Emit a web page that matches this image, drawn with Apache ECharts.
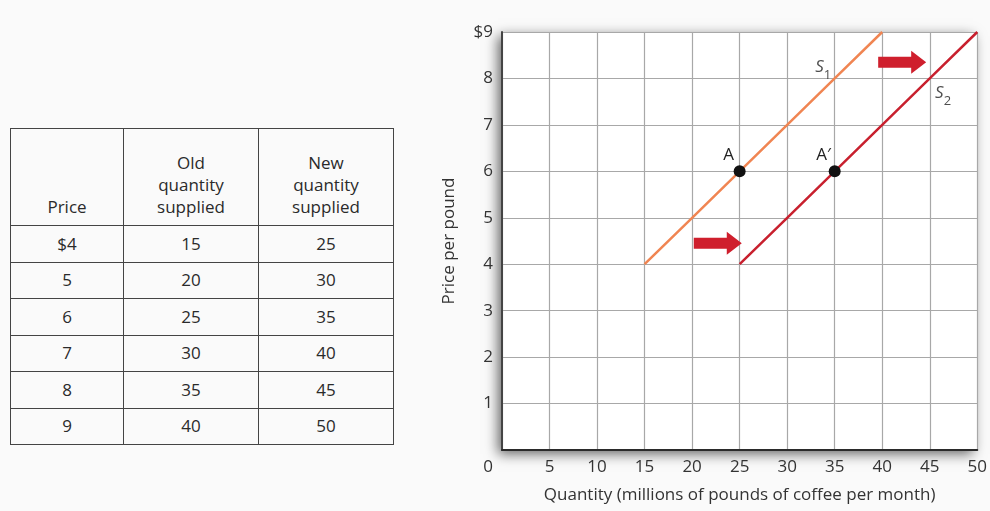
<!DOCTYPE html>
<html>
<head>
<meta charset="utf-8">
<script src="https://cdn.jsdelivr.net/npm/echarts@6/dist/echarts.min.js"></script>
<style>
  html, body { margin:0; padding:0; background:#fafafa; }
  #wrap { position:relative; width:990px; height:511px; }
  #chart { position:absolute; left:0; top:0; width:990px; height:511px; }
  #tbl { position:absolute; left:10px; top:128px; border-collapse:collapse; font-family:"Open Sans","Noto Sans",sans-serif; font-size:17px; color:#2a2a2a; background:#fafafa; }
  #tbl td { border:1.5px solid #444; text-align:center; padding:0; line-height:22px; }
  #tbl tr.h td { height:89px; vertical-align:bottom; padding-bottom:7px; }
  #tbl tr.r td { height:35.5px; vertical-align:middle; }
</style>
</head>
<body>
<div id="wrap">
  <div id="chart"></div>
  <table id="tbl"></table>
</div>
<script>
// ---- data ----
var tableHeaders = ["Price", "Old<br>quantity<br>supplied", "New<br>quantity<br>supplied"];
var prices = ["$4", "5", "6", "7", "8", "9"];
var oldQty = [15, 20, 25, 30, 35, 40];
var newQty = [25, 30, 35, 40, 45, 50];
var priceValues = [4, 5, 6, 7, 8, 9];
var pointsA = [[25, 6, "A"], [35, 6, "A\u2032"]];
var curveLabels = [[33.8, 8.18, "1"], [46.4, 7.62, "2"]];
var arrows = [[42.1, 8.35], [22.7, 4.45]];
var xTicks = [0, 5, 10, 15, 20, 25, 30, 35, 40, 45, 50];
var yTicks = [0, 1, 2, 3, 4, 5, 6, 7, 8, 9];

// ---- table ----
var tbl = document.getElementById('tbl');
var widths = [112, 134, 134];
var html = '<tr class="h">' + tableHeaders.map(function (h, i) { return '<td style="width:' + widths[i] + 'px">' + h + '</td>'; }).join('') + '</tr>';
for (var i = 0; i < prices.length; i++) {
  html += '<tr class="r"><td>' + prices[i] + '</td><td>' + oldQty[i] + '</td><td>' + newQty[i] + '</td></tr>';
}
tbl.innerHTML = html;

// ---- chart ----
var s1 = priceValues.map(function (p, i) { return [oldQty[i], p]; });
var s2 = priceValues.map(function (p, i) { return [newQty[i], p]; });
var font = '"Open Sans","Noto Sans",sans-serif';
var FS = 17;
var chart = echarts.init(document.getElementById('chart'));
var arrowPath = 'path://M0,6 L33,6 L33,0 L48,11.5 L33,23 L33,17 L0,17 Z';
chart.setOption({
  animation: false,
  grid: {
    left: 502, right: 11, top: 32, bottom: 61,
    show: true, backgroundColor: '#ffffff', borderWidth: 0,
    shadowBlur: 12, shadowColor: 'rgba(0,0,0,0.6)', shadowOffsetX: -4, shadowOffsetY: 4
  },
  xAxis: {
    type: 'value', min: 0, max: 50, interval: 5,
    axisLine: { show: true, lineStyle: { color: '#2a2a2a', width: 2 } },
    axisTick: { show: false },
    splitLine: { show: true, lineStyle: { color: '#a8a8a8', width: 1.2 } },
    axisLabel: {
      margin: 9, color: '#333', fontFamily: font, fontSize: FS,
      formatter: function (v) { return v === 0 ? '{z|0}' : String(v); },
      rich: { z: { padding: [0, 28, 0, 0], fontFamily: font, fontSize: FS, color: '#333' } }
    },
    name: 'Quantity (millions of pounds of coffee per month)',
    nameLocation: 'middle', nameGap: 37,
    nameTextStyle: { color: '#333', fontFamily: font, fontSize: FS }
  },
  yAxis: {
    type: 'value', min: 0, max: 9, interval: 1,
    axisLine: { show: true, lineStyle: { color: '#444', width: 2 } },
    axisTick: { show: false },
    splitLine: { show: true, lineStyle: { color: '#a8a8a8', width: 1.2 } },
    axisLabel: {
      margin: 9, color: '#333', fontFamily: font, fontSize: FS,
      formatter: function (v) { return v === 0 ? '' : (v === 9 ? '$9' : String(v)); }
    },
    name: 'Price per pound', nameLocation: 'middle', nameGap: 44,
    nameTextStyle: { color: '#333', fontFamily: font, fontSize: FS }
  },
  series: [
    { type: 'line', data: s1, symbol: 'none', lineStyle: { color: '#f08552', width: 2.5 }, z: 3 },
    { type: 'line', data: s2, symbol: 'none', lineStyle: { color: '#c8202e', width: 2.5 }, z: 3 },
    {
      type: 'scatter', data: pointsA, symbol: 'circle', symbolSize: 12,
      itemStyle: { color: '#111', opacity: 1 }, z: 5,
      label: { show: true, formatter: function (p) { return p.data[2]; }, position: [-5, -19], align: 'center',
        color: '#222', fontFamily: font, fontSize: FS }
    },
    {
      type: 'scatter', data: curveLabels, symbolSize: 0, z: 5,
      label: { show: true, position: 'inside', formatter: function (p) { return '{s|S}{n|' + p.data[2] + '}'; },
        rich: {
          s: { fontFamily: font, fontStyle: 'italic', fontSize: FS, color: '#222', verticalAlign: 'top' },
          n: { fontFamily: font, fontSize: 13, color: '#222', padding: [10, 0, 0, 0] }
        } }
    },
    {
      type: 'scatter', data: arrows, symbol: arrowPath, symbolSize: [48, 23],
      itemStyle: { color: '#cf1f2d', opacity: 1 }, z: 4
    }
  ]
});
</script>
</body>
</html>
